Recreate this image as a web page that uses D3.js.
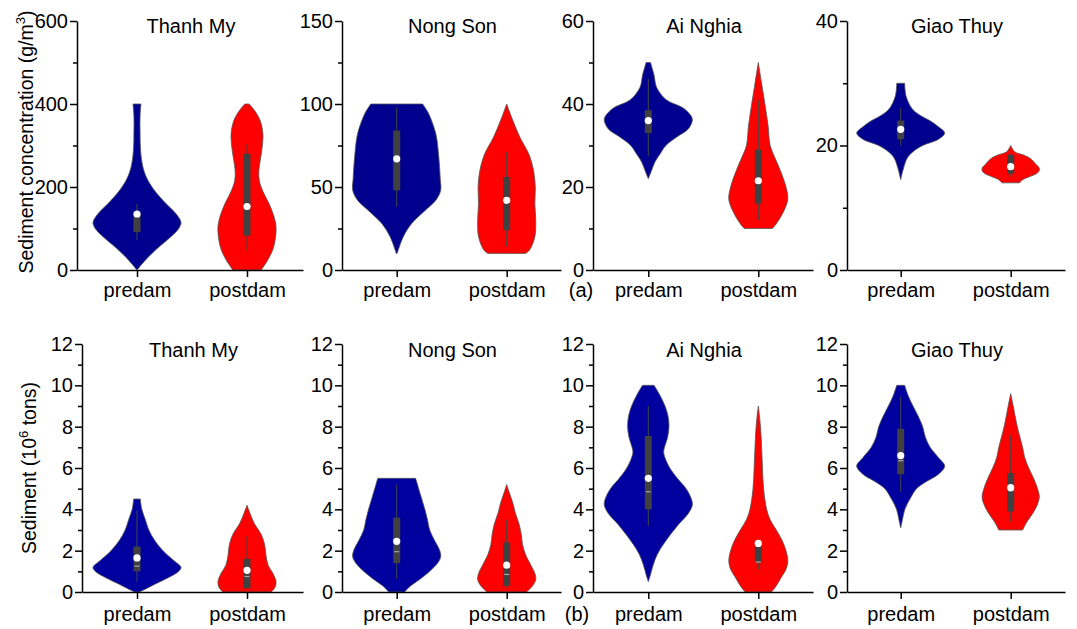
<!DOCTYPE html>
<html>
<head>
<meta charset="utf-8">
<script src="https://cdn.jsdelivr.net/npm/d3@7"></script>
<style>
  body { margin: 0; background: #fff; }
  svg { font-family: Arial, "Liberation Sans", sans-serif; }
</style>
</head>
<body>
<svg id="chart" width="1077" height="629"></svg>
<script>
// ---- data ----
const stations = ["Thanh My", "Nong Son", "Ai Nghia", "Giao Thuy"];
const periods = ["predam", "postdam"];

const concTicks = [[0, 200, 400, 600], [0, 50, 100, 150], [0, 20, 40, 60], [0, 20, 40]];
const concMinor = [[100, 300, 500], [25, 75, 125], [10, 30, 50], [10, 30]];
const loadTicks = [0, 2, 4, 6, 8, 10, 12];
const loadMinor = [1, 3, 5, 7, 9, 11];

// violin outlines: value levels and relative half-width (1 = widest)
const concPreLevels = [
  [0, 20, 40, 60, 80, 100, 115, 135, 160, 190, 220, 250, 290, 330, 370, 400],
  [10, 20, 28, 35, 42, 48, 55, 70, 82, 94, 98, 100],
  [22, 24, 26, 28, 30, 32, 34, 36, 37, 39, 41, 44, 47, 50],
  [14.5, 16, 18, 19, 20, 21, 22, 23, 24, 25, 26, 28, 30]
];
const concPreWidths = [
  [0, .16, .34, .55, .77, .95, 1, .89, .66, .41, .23, .13, .08, .07, .07, .09],
  [.01, .15, .34, .61, .89, 1, .99, .95, .89, .73, .64, .59],
  [0, .075, .15, .27, .4, .64, .91, 1, .98, .8, .41, .19, .13, .05],
  [0, .05, .15, .28, .5, .86, 1, .86, .66, .41, .25, .12, .09]
];
const concPostLevels = [
  [0, 20, 50, 80, 105, 130, 160, 190, 215, 240, 270, 300, 330, 360, 380, 395, 400],
  [10, 12, 20, 30, 40, 50, 60, 70, 80, 90, 100],
  [10, 11, 14, 17, 20, 24, 27, 30, 35, 40, 45, 50],
  [14, 14.5, 15, 15.5, 16, 16.5, 17, 17.5, 18, 18.5, 19, 20]
];
const concPostWidths = [
  [.32, .45, .59, .65, .66, .61, .5, .36, .28, .27, .31, .35, .36, .3, .2, .09, .05],
  [.43, .52, .64, .66, .64, .65, .61, .5, .3, .14, 0],
  [.32, .4, .57, .67, .63, .5, .38, .27, .22, .15, .075, 0],
  [.2, .27, .43, .59, .65, .64, .57, .51, .43, .28, .09, 0]
];
const loadPreLevels = [
  [0, .15, .4, .7, 1, 1.2, 1.5, 2, 2.5, 3, 3.5, 4, 4.5],
  [0, .3, .6, 1, 1.4, 1.7, 2, 2.5, 3, 3.5, 4, 4.5, 5, 5.5],
  [.5, .8, 1.3, 1.8, 2.3, 2.8, 3.3, 3.8, 4.2, 4.5, 5, 5.5, 6, 6.5, 6.8, 7.5, 8, 8.5, 9, 9.5, 10],
  [3.1, 3.5, 4, 4.5, 5, 5.3, 5.7, 6.1, 6.5, 7, 7.5, 8, 8.5, 9, 9.5, 10]
];
const loadPreWidths = [
  [.05, .2, .43, .72, .95, 1, .85, .59, .4, .27, .19, .11, .075],
  [.18, .32, .52, .75, .93, 1, .98, .86, .75, .7, .64, .57, .5, .43],
  [0, .045, .11, .2, .34, .51, .7, .91, 1, .98, .86, .66, .49, .38, .35, .44, .47, .45, .38, .27, .13],
  [0, .04, .095, .21, .36, .55, .86, 1, .86, .67, .56, .5, .4, .28, .17, .09]
];
const loadPostLevels = [
  [0, .2, .5, .9, 1.3, 1.8, 2.3, 2.8, 3.3, 3.8, 4.2],
  [0, .3, .6, .9, 1.3, 1.8, 2.3, 2.8, 3.3, 3.8, 4.3, 4.8, 5.2],
  [0, .3, .7, 1.1, 1.5, 2, 2.5, 3, 3.5, 4, 5, 6, 7, 8, 9],
  [3, 3.4, 3.8, 4.2, 4.6, 5, 5.5, 6, 6.5, 7, 8, 9, 9.6]
];
const loadPostWidths = [
  [.55, .63, .66, .59, .48, .43, .4, .32, .17, .07, 0],
  [.45, .59, .66, .64, .55, .43, .36, .33, .28, .2, .14, .06, 0],
  [.3, .41, .52, .63, .67, .63, .54, .41, .27, .19, .12, .095, .075, .05, 0],
  [.27, .37, .5, .6, .65, .61, .52, .41, .32, .27, .15, .057, 0]
];

// box stats: [whisker low, q1, median, q3, whisker high, mean]
const concPreBox = [[72, 91, null, 135, 160, 135], [38, 48, null, 84, 98, 67], [27.5, 33, null, 38.5, 46, 36], [20, 21, null, 24, 26, 22.6]];
const concPostBox = [[47, 83, null, 280, 305, 153], [14, 24, null, 56, 71, 42], [12, 16, null, 29, 41, 21.5], [15, 15.5, null, 18.5, 18.7, 16.6]];
const loadPreBox = [[.5, 1, 1.25, 2.2, 3.95, 1.65], [.65, 1.4, 1.95, 3.6, 5.2, 2.45], [3.2, 4, 4.85, 7.55, 9, 5.5], [4.85, 5.7, 6.35, 7.9, 9.45, 6.6]];
const loadPostBox = [[.15, .18, .75, 1.6, 2.7, 1.05], [.2, .3, .85, 2.4, 3.5, 1.3], [1.1, 1.45, 1.45, 2.4, 2.4, 2.35], [3.4, 3.9, 4.9, 5.75, 7.6, 5.05]];

// ---- layout ----
const svg = d3.select("#chart");
const fontSize = 20;
const catCenter = [137, 396.7, 648.3, 900.7];   // pixel of "predam" in each column
const catSpacing = 110;
const axisRight = [303, 561, 813, 1065];

const rows = [
  {
    top: 21, bottom: 270, left: [77, 342, 593, 847],
    ticks: concTicks, minor: concMinor,
    levels: [concPreLevels, concPostLevels], widths: [concPreWidths, concPostWidths],
    box: [concPreBox, concPostBox], colors: ["#00008f", "#ff0000"],
    titleY: 33, labelY: 297, tag: "(a)", tagX: 581
  },
  {
    top: 344, bottom: 592, left: [82, 342, 593, 847],
    ticks: [loadTicks, loadTicks, loadTicks, loadTicks], minor: [loadMinor, loadMinor, loadMinor, loadMinor],
    levels: [loadPreLevels, loadPostLevels], widths: [loadPreWidths, loadPostWidths],
    box: [loadPreBox, loadPostBox], colors: ["#00009e", "#ff0000"],
    titleY: 357, labelY: 621, tag: "(b)", tagX: 577
  }
];

const halfWidth = d3.scaleLinear().domain([0, 1]).range([0, 0.4]); // in category units
const boxHalf = 0.032;

rows.forEach(row => {
  stations.forEach((name, j) => {
    const base = d3.scaleLinear().domain([1, 2]).range([catCenter[j], catCenter[j] + catSpacing]);
    const x = d3.scaleLinear()
      .domain([base.invert(row.left[j]), base.invert(axisRight[j])])
      .range([row.left[j], axisRight[j]]);
    const ticks = row.ticks[j];
    const y = d3.scaleLinear().domain([0, d3.max(ticks)]).range([row.bottom, row.top]);

    const g = svg.append("g");

    // violins
    periods.forEach((p, k) => {
      const c = k + 1;
      const lv = row.levels[k][j], wd = row.widths[k][j];
      const pts = lv.map((v, i) => [v, wd[i]]);
      const area = d3.area()
        .curve(d3.curveCatmullRom.alpha(0.5))
        .y(d => y(d[0]))
        .x0(d => x(c - halfWidth(d[1])))
        .x1(d => x(c + halfWidth(d[1])));
      g.append("path")
        .attr("d", area(pts))
        .attr("fill", row.colors[k])
        .attr("stroke", "#555")
        .attr("stroke-width", 0.8);

      const b = row.box[k][j];
      g.append("line")
        .attr("x1", x(c)).attr("x2", x(c))
        .attr("y1", y(b[0])).attr("y2", y(b[4]))
        .attr("stroke", "#454545").attr("stroke-width", 1);
      g.append("rect")
        .attr("x", x(c - boxHalf)).attr("width", x(c + boxHalf) - x(c - boxHalf))
        .attr("y", y(b[3])).attr("height", y(b[1]) - y(b[3]))
        .attr("fill", "#404040");
      if (b[2] != null) {
        g.append("line")
          .attr("x1", x(c - boxHalf) + 1).attr("x2", x(c + boxHalf) - 1)
          .attr("y1", y(b[2])).attr("y2", y(b[2]))
          .attr("stroke", "#a8a8a8").attr("stroke-width", 1.2);
      }
      g.append("circle")
        .attr("cx", x(c)).attr("cy", y(b[5])).attr("r", 3.6)
        .attr("fill", "#fff");
    });

    // y axis
    g.append("g")
      .attr("transform", `translate(${row.left[j]},0)`)
      .call(d3.axisLeft(y).tickValues(ticks).tickSize(7).tickSizeOuter(0).tickPadding(2));
    g.append("g")
      .attr("transform", `translate(${row.left[j]},0)`)
      .call(d3.axisLeft(y).tickValues(row.minor[j]).tickSize(4).tickFormat(""))
      .call(a => a.select(".domain").remove());

    // x axis
    const xAxis = g.append("g")
      .attr("transform", `translate(0,${row.bottom})`)
      .call(d3.axisBottom(x).tickValues([1, 2]).tickSize(7).tickSizeOuter(0)
        .tickFormat((d, i) => periods[i]).tickPadding(4));
    xAxis.selectAll("text").attr("dy", null).attr("y", row.labelY - row.bottom);

    g.selectAll(".domain, .tick line").attr("stroke", "#000").attr("stroke-width", 1.5);
    g.selectAll(".tick text").attr("font-size", fontSize).attr("font-family", "Arial, 'Liberation Sans', sans-serif").attr("fill", "#000");

    // title
    g.append("text")
      .attr("x", (row.left[j] + axisRight[j]) / 2 + 1)
      .attr("y", row.titleY)
      .attr("text-anchor", "middle")
      .attr("font-size", fontSize)
      .text(name);
  });

  svg.append("text")
    .attr("x", row.tagX).attr("y", row.labelY)
    .attr("text-anchor", "middle").attr("font-size", fontSize)
    .text(row.tag);
});

// y axis titles
const t1 = svg.append("text")
  .attr("transform", "translate(33,142) rotate(-90)")
  .attr("text-anchor", "middle").attr("font-size", 19.5);
t1.append("tspan").text("Sediment concentration (g/m");
t1.append("tspan").attr("dy", -8).attr("font-size", 13).text("3");
t1.append("tspan").attr("dy", 8).text(")");

const t2 = svg.append("text")
  .attr("transform", "translate(36,468) rotate(-90)")
  .attr("text-anchor", "middle").attr("font-size", 19.5);
t2.append("tspan").text("Sediment (10");
t2.append("tspan").attr("dy", -8).attr("font-size", 13).text("6");
t2.append("tspan").attr("dy", 8).text(" tons)");
</script>
</body>
</html>
